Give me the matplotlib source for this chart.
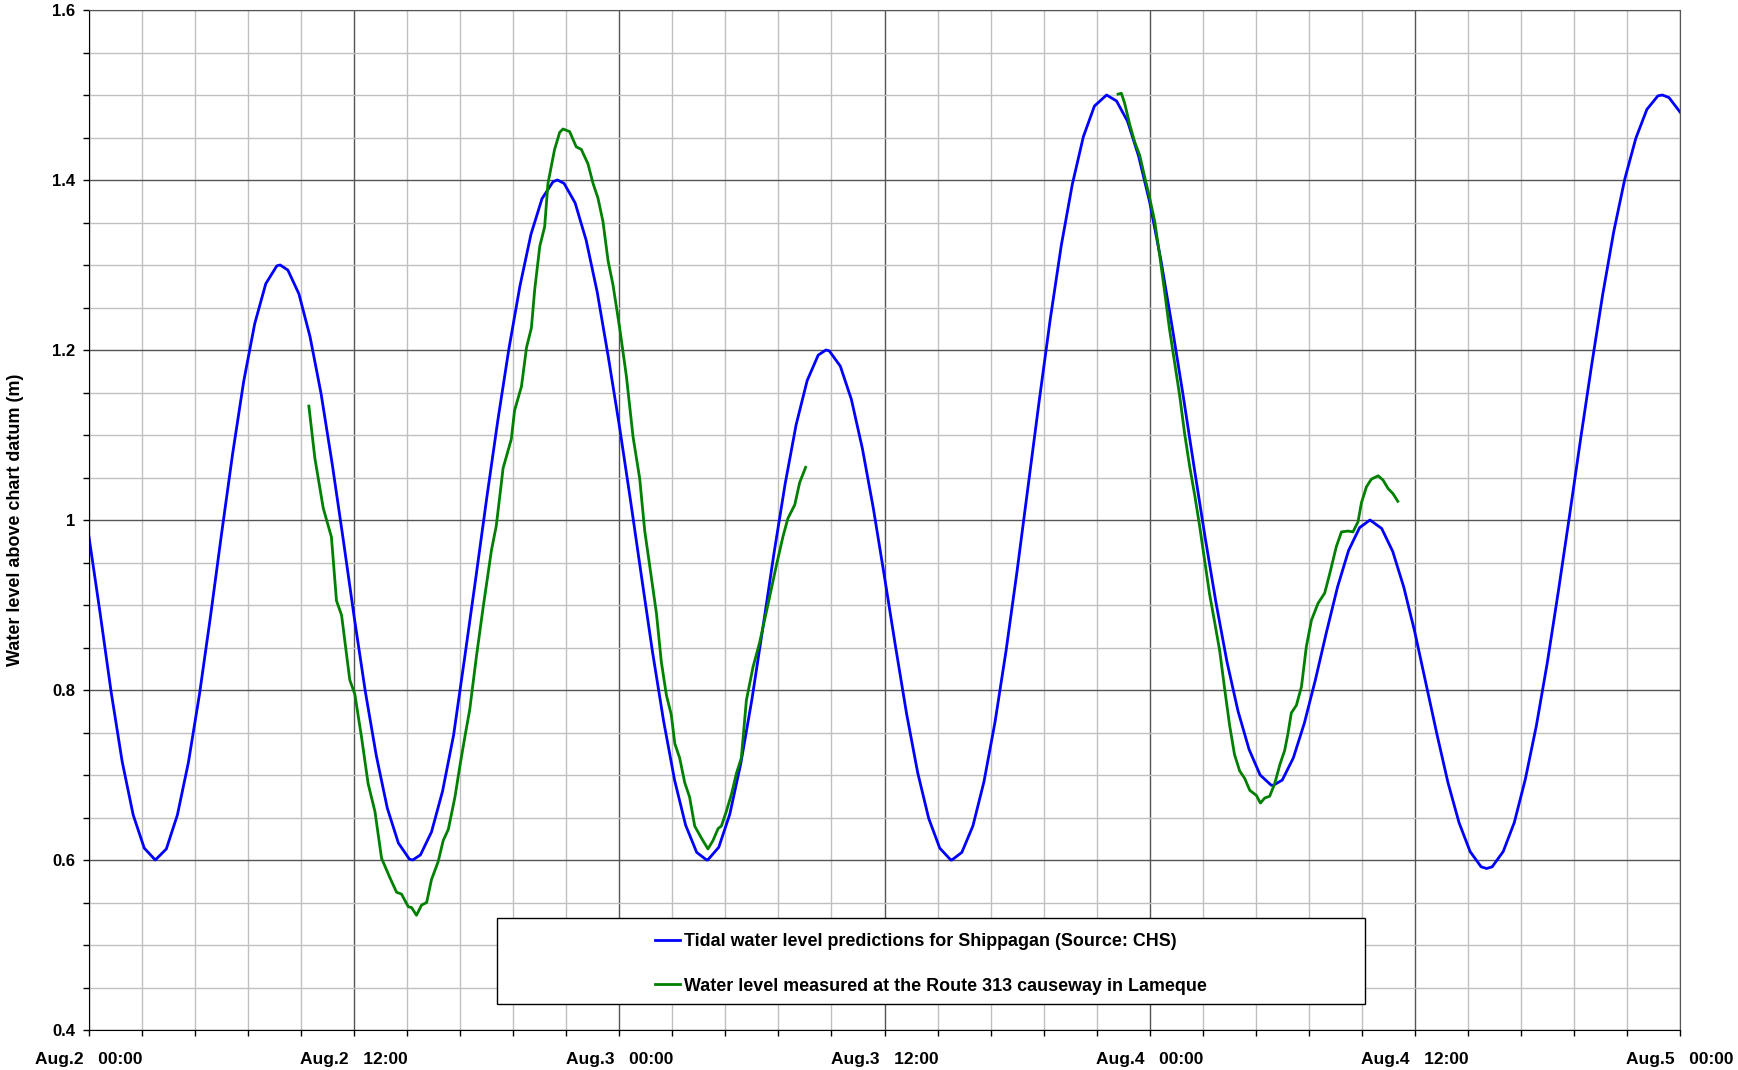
import matplotlib
matplotlib.use("Agg")
import matplotlib.pyplot as plt
from matplotlib.ticker import MultipleLocator, FormatStrFormatter
from matplotlib.patches import Rectangle

plt.rcParams['font.family'] = ['Liberation Sans', 'DejaVu Sans']

# hours since Aug.2 00:00, every half hour (plus the turning points)
pred_hours = [0, 0.5, 1, 1.5, 2, 2.5, 3, 3.5, 4, 4.5, 5, 5.5, 6, 6.5, 7, 7.5, 8, 8.5, 8.65,
              9, 9.5, 10, 10.5, 11, 11.5, 12, 12.5, 13, 13.5, 14, 14.5, 14.65,
              15, 15.5, 16, 16.5, 17, 17.5, 18, 18.5, 19, 19.5, 20, 20.5, 21, 21.2,
              21.5, 22, 22.5, 23, 23.5, 24, 24.5, 25, 25.5, 26, 26.5, 27, 27.5, 27.95,
              28, 28.5, 29, 29.5, 30, 30.5, 31, 31.5, 32, 32.5, 33, 33.35,
              33.5, 34, 34.5, 35, 35.5, 36, 36.5, 37, 37.5, 38, 38.5, 39, 39.05,
              39.5, 40, 40.5, 41, 41.5, 42, 42.5, 43, 43.5, 44, 44.5, 45, 45.5, 46.05,
              46.5, 47, 47.5, 48, 48.5, 49, 49.5, 50, 50.5, 51, 51.5, 52, 52.5, 53, 53.5, 53.6,
              54, 54.5, 55, 55.5, 56, 56.5, 57, 57.5, 57.97,
              58.5, 59, 59.5, 60, 60.5, 61, 61.5, 62, 62.5, 63, 63.25,
              63.5, 64, 64.5, 65, 65.5, 66, 66.5, 67, 67.5, 68, 68.5, 69, 69.5, 70, 70.5,
              71, 71.2, 71.5, 72]
pred_level = [0.980, 0.891, 0.798, 0.716, 0.653, 0.614, 0.600, 0.613, 0.653, 0.715, 0.795,
              0.887, 0.984, 1.078, 1.163, 1.231, 1.278, 1.299, 1.300,
              1.294, 1.266, 1.216, 1.149, 1.067, 0.978, 0.886, 0.799, 0.723, 0.661, 0.620,
              0.601, 0.600,
              0.606, 0.633, 0.681, 0.747, 0.838, 0.931, 1.026, 1.117, 1.201, 1.275, 1.336,
              1.378, 1.398, 1.400,
              1.396, 1.373, 1.329, 1.268, 1.192, 1.111, 1.024, 0.934, 0.845, 0.764, 0.694,
              0.641, 0.609, 0.600,
              0.600, 0.615, 0.654, 0.714, 0.789, 0.874, 0.961, 1.042, 1.112, 1.164, 1.194,
              1.200,
              1.199, 1.181, 1.142, 1.084, 1.013, 0.933, 0.851, 0.772, 0.703, 0.649, 0.614,
              0.600, 0.600,
              0.609, 0.640, 0.692, 0.762, 0.846, 0.940, 1.040, 1.140, 1.236, 1.323, 1.395,
              1.451, 1.487, 1.500,
              1.493, 1.469, 1.428, 1.374, 1.307, 1.230, 1.149, 1.064, 0.981, 0.903, 0.833,
              0.775, 0.730, 0.700, 0.688, 0.688,
              0.694, 0.720, 0.761, 0.812, 0.868, 0.921, 0.964, 0.991, 1.000,
              0.990, 0.963, 0.921, 0.868, 0.808, 0.748, 0.691, 0.644, 0.610, 0.592, 0.590,
              0.592, 0.610, 0.644, 0.695, 0.758, 0.833, 0.917, 1.005, 1.095, 1.182, 1.265,
              1.339, 1.401, 1.449, 1.483, 1.499, 1.500, 1.497, 1.480]

meas1_hours = [9.95, 10.22, 10.60, 10.97, 11.20, 11.43, 11.80, 12.03, 12.33, 12.63, 12.94,
               13.24, 13.62, 13.92, 14.14, 14.45, 14.60, 14.82, 15.05, 15.28, 15.50, 15.80,
               16.03, 16.26, 16.56, 16.78, 17.01, 17.23, 17.53, 17.83, 18.21, 18.43, 18.74,
               19.11, 19.26, 19.57, 19.80, 20.02, 20.17, 20.40, 20.62, 20.77, 21.07, 21.30,
               21.45, 21.75, 22.05, 22.28, 22.58, 22.81, 23.03, 23.26, 23.49, 23.71, 24.02,
               24.32, 24.62, 24.92, 25.15, 25.37, 25.68, 25.90, 26.13, 26.35, 26.51, 26.73,
               26.96, 27.18, 27.41, 27.71, 28.01, 28.24, 28.47, 28.62, 28.84, 29.07, 29.30,
               29.52, 29.75, 30.05, 30.35, 30.73, 31.11, 31.41, 31.63, 31.94, 32.16, 32.43]
meas1_level = [1.134, 1.073, 1.014, 0.980, 0.905, 0.888, 0.812, 0.795, 0.745, 0.690, 0.657,
               0.602, 0.579, 0.562, 0.560, 0.545, 0.544, 0.535, 0.547, 0.550, 0.577, 0.598,
               0.623, 0.636, 0.674, 0.710, 0.745, 0.777, 0.839, 0.896, 0.964, 0.993, 1.061,
               1.095, 1.129, 1.157, 1.203, 1.226, 1.271, 1.322, 1.345, 1.396, 1.436, 1.456,
               1.460, 1.457, 1.439, 1.436, 1.419, 1.396, 1.379, 1.351, 1.305, 1.277, 1.225,
               1.169, 1.098, 1.049, 0.987, 0.947, 0.890, 0.833, 0.794, 0.771, 0.737, 0.720,
               0.691, 0.674, 0.640, 0.626, 0.613, 0.623, 0.637, 0.640, 0.657, 0.677, 0.702,
               0.720, 0.788, 0.827, 0.856, 0.901, 0.947, 0.981, 1.002, 1.018, 1.044, 1.062]

meas2_hours = [46.57, 46.72, 46.87, 47.10, 47.32, 47.55, 47.77, 48.00, 48.23, 48.45, 48.68,
               48.90, 49.13, 49.36, 49.58, 49.81, 50.04, 50.26, 50.49, 50.71, 50.94, 51.17,
               51.39, 51.62, 51.84, 52.07, 52.30, 52.53, 52.83, 53.01, 53.21, 53.43, 53.66,
               53.89, 54.11, 54.26, 54.41, 54.64, 54.87, 55.09, 55.32, 55.62, 55.92, 56.15,
               56.45, 56.68, 56.98, 57.20, 57.43, 57.58, 57.81, 58.03, 58.34, 58.56, 58.79,
               59.01, 59.23]
meas2_level = [1.501, 1.502, 1.490, 1.465, 1.445, 1.429, 1.404, 1.379, 1.351, 1.312, 1.268,
               1.224, 1.185, 1.146, 1.102, 1.063, 1.029, 0.993, 0.952, 0.913, 0.880, 0.846,
               0.802, 0.758, 0.724, 0.705, 0.696, 0.682, 0.676, 0.667, 0.673, 0.675, 0.690,
               0.712, 0.729, 0.749, 0.773, 0.782, 0.804, 0.851, 0.882, 0.902, 0.914, 0.937,
               0.969, 0.986, 0.987, 0.986, 0.998, 1.020, 1.039, 1.048, 1.052, 1.047, 1.037,
               1.031, 1.022]

tick_hours = [0, 12, 24, 36, 48, 60, 72]
tick_labels = ["Aug.2   00:00", "Aug.2   12:00", "Aug.3   00:00", "Aug.3   12:00",
               "Aug.4   00:00", "Aug.4   12:00", "Aug.5   00:00"]

fig = plt.figure(figsize=(17.38, 10.70), dpi=100)
ax = fig.add_axes([89 / 1738, 40 / 1070, 1591 / 1738, 1020 / 1070])

ax.plot(pred_hours, pred_level, color='#0000ff', lw=2.0,
        label="Tidal water level predictions for Shippagan (Source: CHS)")
ax.plot(meas1_hours, meas1_level, color='#008000', lw=2.0,
        label="Water level measured at the Route 313 causeway in Lameque")
ax.plot(meas2_hours, meas2_level, color='#008000', lw=2.0)

ax.set_xlim(0, 72)
ax.set_ylim(0.4, 1.6)
ax.xaxis.set_minor_locator(MultipleLocator(2.4))
ax.yaxis.set_major_locator(MultipleLocator(0.2))
ax.yaxis.set_minor_locator(MultipleLocator(0.05))
ax.yaxis.set_major_formatter(FormatStrFormatter('%g'))
ax.set_xticks(tick_hours, tick_labels, fontsize=12.5, fontweight='bold')
for lab in ax.get_yticklabels():
    lab.set_fontsize(12)
    lab.set_fontweight('bold')

# grid: dark every 12 h / 0.2 m, light every 2.4 h / 0.05 m
ax.grid(which='minor', color='#c0c0c0', lw=1.0)
ax.grid(which='major', color='#555555', lw=1.0)
ax.set_axisbelow(True)
ax.tick_params(which='both', direction='out', length=4, width=1, color='black')
ax.tick_params(axis='x', which='major', pad=12)
ax.tick_params(axis='y', which='major', pad=6)
for side in ['top', 'right']:
    ax.spines[side].set_color('#555555')
for side in ['left', 'bottom']:
    ax.spines[side].set_color('black')

fig.text(16 / 1738, 1 - 520 / 1070, "Water level above chart datum (m)", rotation=90,
         ha='center', va='center', fontsize=13, fontweight='bold')

# legend box is wider than its content, so draw it separately
ax.add_patch(Rectangle((0.2564, 0.0255), 0.5456, 0.0843, transform=ax.transAxes,
                       facecolor='white', edgecolor='black', lw=1.0, zorder=5))
leg = ax.legend(loc='center', bbox_to_anchor=(0.529, 0.065), frameon=False,
                prop={'size': 12.9, 'weight': 'bold'}, handlelength=1.4,
                handletextpad=0.2, labelspacing=1.55)
leg.set_zorder(6)

fig.savefig("out.png", dpi=100)
